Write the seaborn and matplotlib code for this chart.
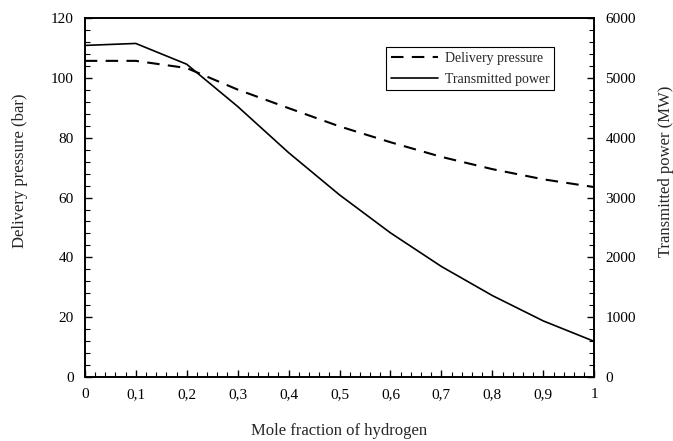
import seaborn as sns
import matplotlib.pyplot as plt
import pandas as pd
from matplotlib.ticker import MultipleLocator, FixedLocator, FixedFormatter

# values
h2_fraction = [0.0, 0.1, 0.2, 0.3, 0.4, 0.5, 0.6, 0.7, 0.8, 0.9, 1.0]
delivery_pressure = [105.7, 105.7, 103.3, 96.1, 89.9, 83.8, 78.5, 73.6, 69.5, 66.1, 63.5]
transmitted_power = [5543, 5576, 5229, 4523, 3751, 3045, 2410, 1848, 1362, 938, 596]
x_labels = ["0", "0,1", "0,2", "0,3", "0,4", "0,5", "0,6", "0,7", "0,8", "0,9", "1"]

df = pd.DataFrame({"x": h2_fraction, "p": delivery_pressure, "w": transmitted_power})

sns.set_style("ticks")
plt.rcParams["font.family"] = ["Liberation Serif", "DejaVu Serif"]

fig = plt.figure(figsize=(6.73, 4.41), dpi=100)
ax = fig.add_axes([0.126, 0.145, 0.757, 0.814])
ax2 = ax.twinx()

sns.lineplot(data=df, x="x", y="p", ax=ax, color="black", lw=1.5,
             linestyle=(0, (6, 4)), label="Delivery pressure", legend=False)
sns.lineplot(data=df, x="x", y="w", ax=ax2, color="black", lw=1.2,
             label="Transmitted power", legend=False)

ax.set_xlim(0, 1)
ax.set_ylim(0, 120)
ax2.set_ylim(0, 6000)

ax.xaxis.set_major_locator(FixedLocator(h2_fraction))
ax.xaxis.set_major_formatter(FixedFormatter(x_labels))
ax.xaxis.set_minor_locator(MultipleLocator(0.02))
ax.yaxis.set_major_locator(MultipleLocator(20))
ax.yaxis.set_minor_locator(MultipleLocator(4))
ax2.yaxis.set_major_locator(MultipleLocator(1000))
ax2.yaxis.set_minor_locator(MultipleLocator(200))

ax.tick_params(which="both", direction="in", labelsize=11, colors="black")
ax.tick_params(which="major", length=5, width=1, pad=8)
ax.tick_params(which="minor", length=3.5, width=0.8)
ax.tick_params(axis="x", pad=8)
ax2.tick_params(which="both", direction="in", labelsize=11, colors="black")
ax2.tick_params(which="major", length=5, width=1, pad=8)
ax2.tick_params(which="minor", length=3.5, width=0.8)

for a in (ax, ax2):
    for s in a.spines.values():
        s.set_color("black")
        s.set_linewidth(1.2)

ax.set_xlabel("Mole fraction of hydrogen", fontsize=12, labelpad=16)
ax.set_ylabel("Delivery pressure (bar)", fontsize=12)
ax2.set_ylabel("Transmitted power (MW)", fontsize=12)
ax.yaxis.set_label_coords(-0.112, 0.574)
ax2.yaxis.set_label_coords(1.126, 0.574)

h1, l1 = ax.get_legend_handles_labels()
h2, l2 = ax2.get_legend_handles_labels()
leg = ax2.legend(h1 + h2, l1 + l2, loc="upper left", bbox_to_anchor=(0.563, 0.909),
                 bbox_transform=fig.transFigure, fancybox=False, framealpha=1,
                 edgecolor="black", fontsize=10, handlelength=3.4, borderpad=0.35,
                 handletextpad=0.5, labelspacing=0.55)
leg.get_frame().set_linewidth(0.8)

fig.savefig("out.png", dpi=100)
